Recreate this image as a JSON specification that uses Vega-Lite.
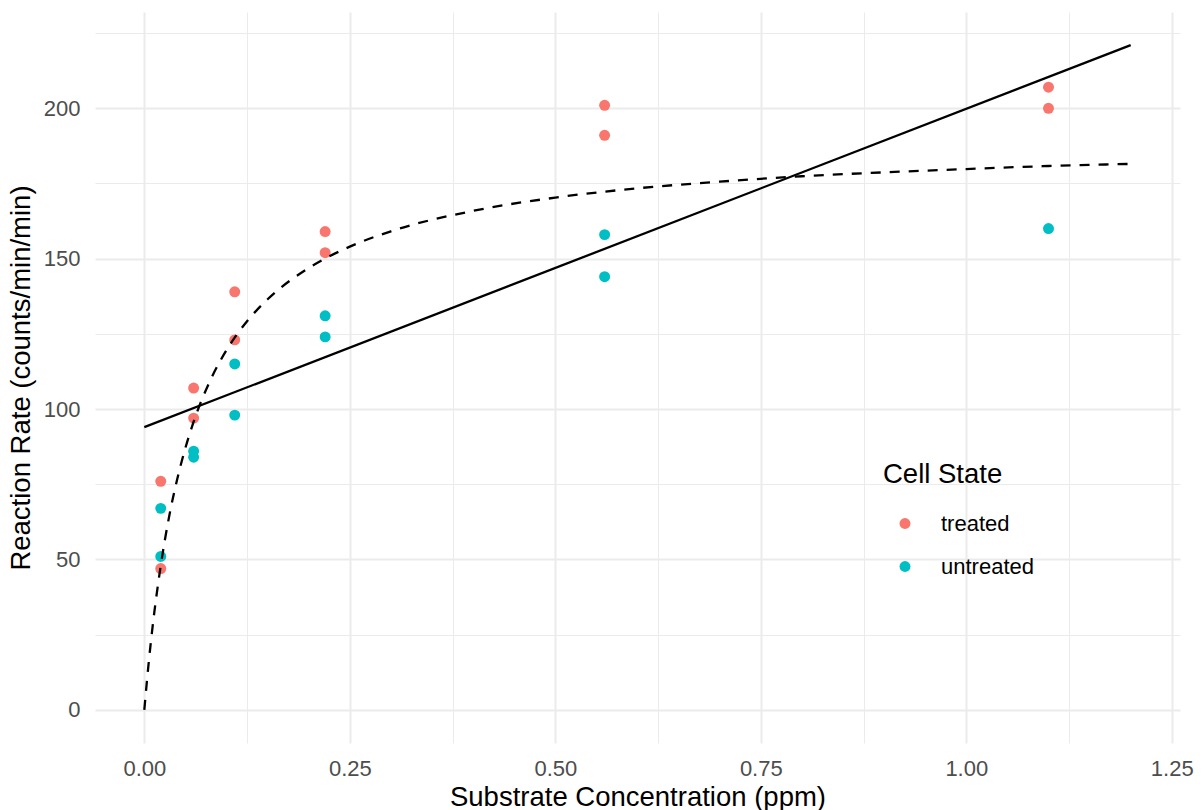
{
  "$schema": "https://vega.github.io/schema/vega-lite/v6.json",
  "width": 1085,
  "height": 731,
  "autosize": {"type": "none"},
  "padding": {"left": 95, "top": 12, "right": 22, "bottom": 67},
  "background": "white",
  "config": {
    "view": {"stroke": null},
    "font": "Liberation Sans",
    "axis": {
      "domain": false,
      "ticks": false,
      "labelFont": "Liberation Sans",
      "labelFontSize": 22,
      "labelColor": "#4D4D4D",
      "titleFont": "Liberation Sans",
      "titleFontSize": 27.5,
      "titleFontWeight": "normal",
      "titleColor": "#000000",
      "gridColor": "#EBEBEB"
    }
  },
  "datasets": {
    "pts": [
      {"conc": 0.02, "rate": 76, "state": "treated"},
      {"conc": 0.02, "rate": 47, "state": "treated"},
      {"conc": 0.06, "rate": 97, "state": "treated"},
      {"conc": 0.06, "rate": 107, "state": "treated"},
      {"conc": 0.11, "rate": 123, "state": "treated"},
      {"conc": 0.11, "rate": 139, "state": "treated"},
      {"conc": 0.22, "rate": 159, "state": "treated"},
      {"conc": 0.22, "rate": 152, "state": "treated"},
      {"conc": 0.56, "rate": 191, "state": "treated"},
      {"conc": 0.56, "rate": 201, "state": "treated"},
      {"conc": 1.10, "rate": 207, "state": "treated"},
      {"conc": 1.10, "rate": 200, "state": "treated"},
      {"conc": 0.02, "rate": 67, "state": "untreated"},
      {"conc": 0.02, "rate": 51, "state": "untreated"},
      {"conc": 0.06, "rate": 84, "state": "untreated"},
      {"conc": 0.06, "rate": 86, "state": "untreated"},
      {"conc": 0.11, "rate": 98, "state": "untreated"},
      {"conc": 0.11, "rate": 115, "state": "untreated"},
      {"conc": 0.22, "rate": 131, "state": "untreated"},
      {"conc": 0.22, "rate": 124, "state": "untreated"},
      {"conc": 0.56, "rate": 144, "state": "untreated"},
      {"conc": 0.56, "rate": 158, "state": "untreated"},
      {"conc": 1.10, "rate": 160, "state": "untreated"}
    ],
    "lin": [
      {"x": 0, "y": 94},
      {"x": 1.2, "y": 221}
    ],
    "mm": [
      {"x": 0, "y": 0},
      {"x": 0.005, "y": 14.8},
      {"x": 0.01, "y": 27.5},
      {"x": 0.02, "y": 48.0},
      {"x": 0.03, "y": 64.0},
      {"x": 0.04, "y": 76.7},
      {"x": 0.05, "y": 87.1},
      {"x": 0.06, "y": 95.8},
      {"x": 0.08, "y": 109.4},
      {"x": 0.10, "y": 119.6},
      {"x": 0.125, "y": 129.2},
      {"x": 0.15, "y": 136.5},
      {"x": 0.2, "y": 146.9},
      {"x": 0.25, "y": 154.0},
      {"x": 0.3, "y": 159.1},
      {"x": 0.4, "y": 165.9},
      {"x": 0.5, "y": 170.3},
      {"x": 0.6, "y": 173.4},
      {"x": 0.7, "y": 175.6},
      {"x": 0.8, "y": 177.4},
      {"x": 0.9, "y": 178.7},
      {"x": 1.0, "y": 179.8},
      {"x": 1.1, "y": 180.8},
      {"x": 1.2, "y": 181.5}
    ]
  },
  "layer": [
    {
      "data": {"name": "pts"},
      "mark": {"type": "point", "filled": true, "opacity": 1, "size": 120},
      "encoding": {
        "x": {
          "field": "conc", "type": "quantitative",
          "scale": {"domain": [-0.06, 1.26], "nice": false, "zero": false},
          "axis": {
            "title": "Substrate Concentration (ppm)",
            "values": [0, 0.125, 0.25, 0.375, 0.5, 0.625, 0.75, 0.875, 1, 1.125, 1.25],
            "labelExpr": "(round(datum.value*1000) % 250 == 0) ? format(datum.value, '.2f') : ''",
            "gridWidth": {"condition": {"test": "round(datum.value*1000) % 250 == 0", "value": 2}, "value": 1},
            "labelPadding": 15,
            "titlePadding": 4
          }
        },
        "y": {
          "field": "rate", "type": "quantitative",
          "scale": {"domain": [-11, 232], "nice": false, "zero": false},
          "axis": {
            "title": "Reaction Rate (counts/min/min)",
            "values": [0, 25, 50, 75, 100, 125, 150, 175, 200, 225],
            "labelExpr": "(datum.value % 50 == 0) ? format(datum.value, 'd') : ''",
            "gridWidth": {"condition": {"test": "datum.value % 50 == 0", "value": 2}, "value": 1},
            "labelPadding": 15,
            "titlePadding": 8
          }
        },
        "color": {
          "field": "state", "type": "nominal",
          "scale": {"domain": ["treated", "untreated"], "range": ["#F8766D", "#00BFC4"]},
          "legend": {
            "title": "Cell State",
            "orient": "none",
            "legendX": 788,
            "legendY": 449,
            "titleFontSize": 27.5,
            "titleFontWeight": "normal",
            "titleFont": "Liberation Sans",
            "titleColor": "#000000",
            "titlePadding": 24,
            "labelFontSize": 22,
            "labelFont": "Liberation Sans",
            "labelColor": "#000000",
            "labelOffset": 25,
            "symbolSize": 120,
            "symbolType": "circle",
            "symbolOffset": 11,
            "rowPadding": 21
          }
        }
      }
    },
    {
      "data": {"name": "lin"},
      "mark": {"type": "line", "color": "black", "strokeWidth": 2.3},
      "encoding": {
        "x": {"field": "x", "type": "quantitative"},
        "y": {"field": "y", "type": "quantitative"}
      }
    },
    {
      "data": {"name": "mm"},
      "mark": {"type": "line", "color": "black", "strokeWidth": 2.3, "strokeDash": [10, 9], "interpolate": "monotone"},
      "encoding": {
        "x": {"field": "x", "type": "quantitative"},
        "y": {"field": "y", "type": "quantitative"}
      }
    }
  ]
}
